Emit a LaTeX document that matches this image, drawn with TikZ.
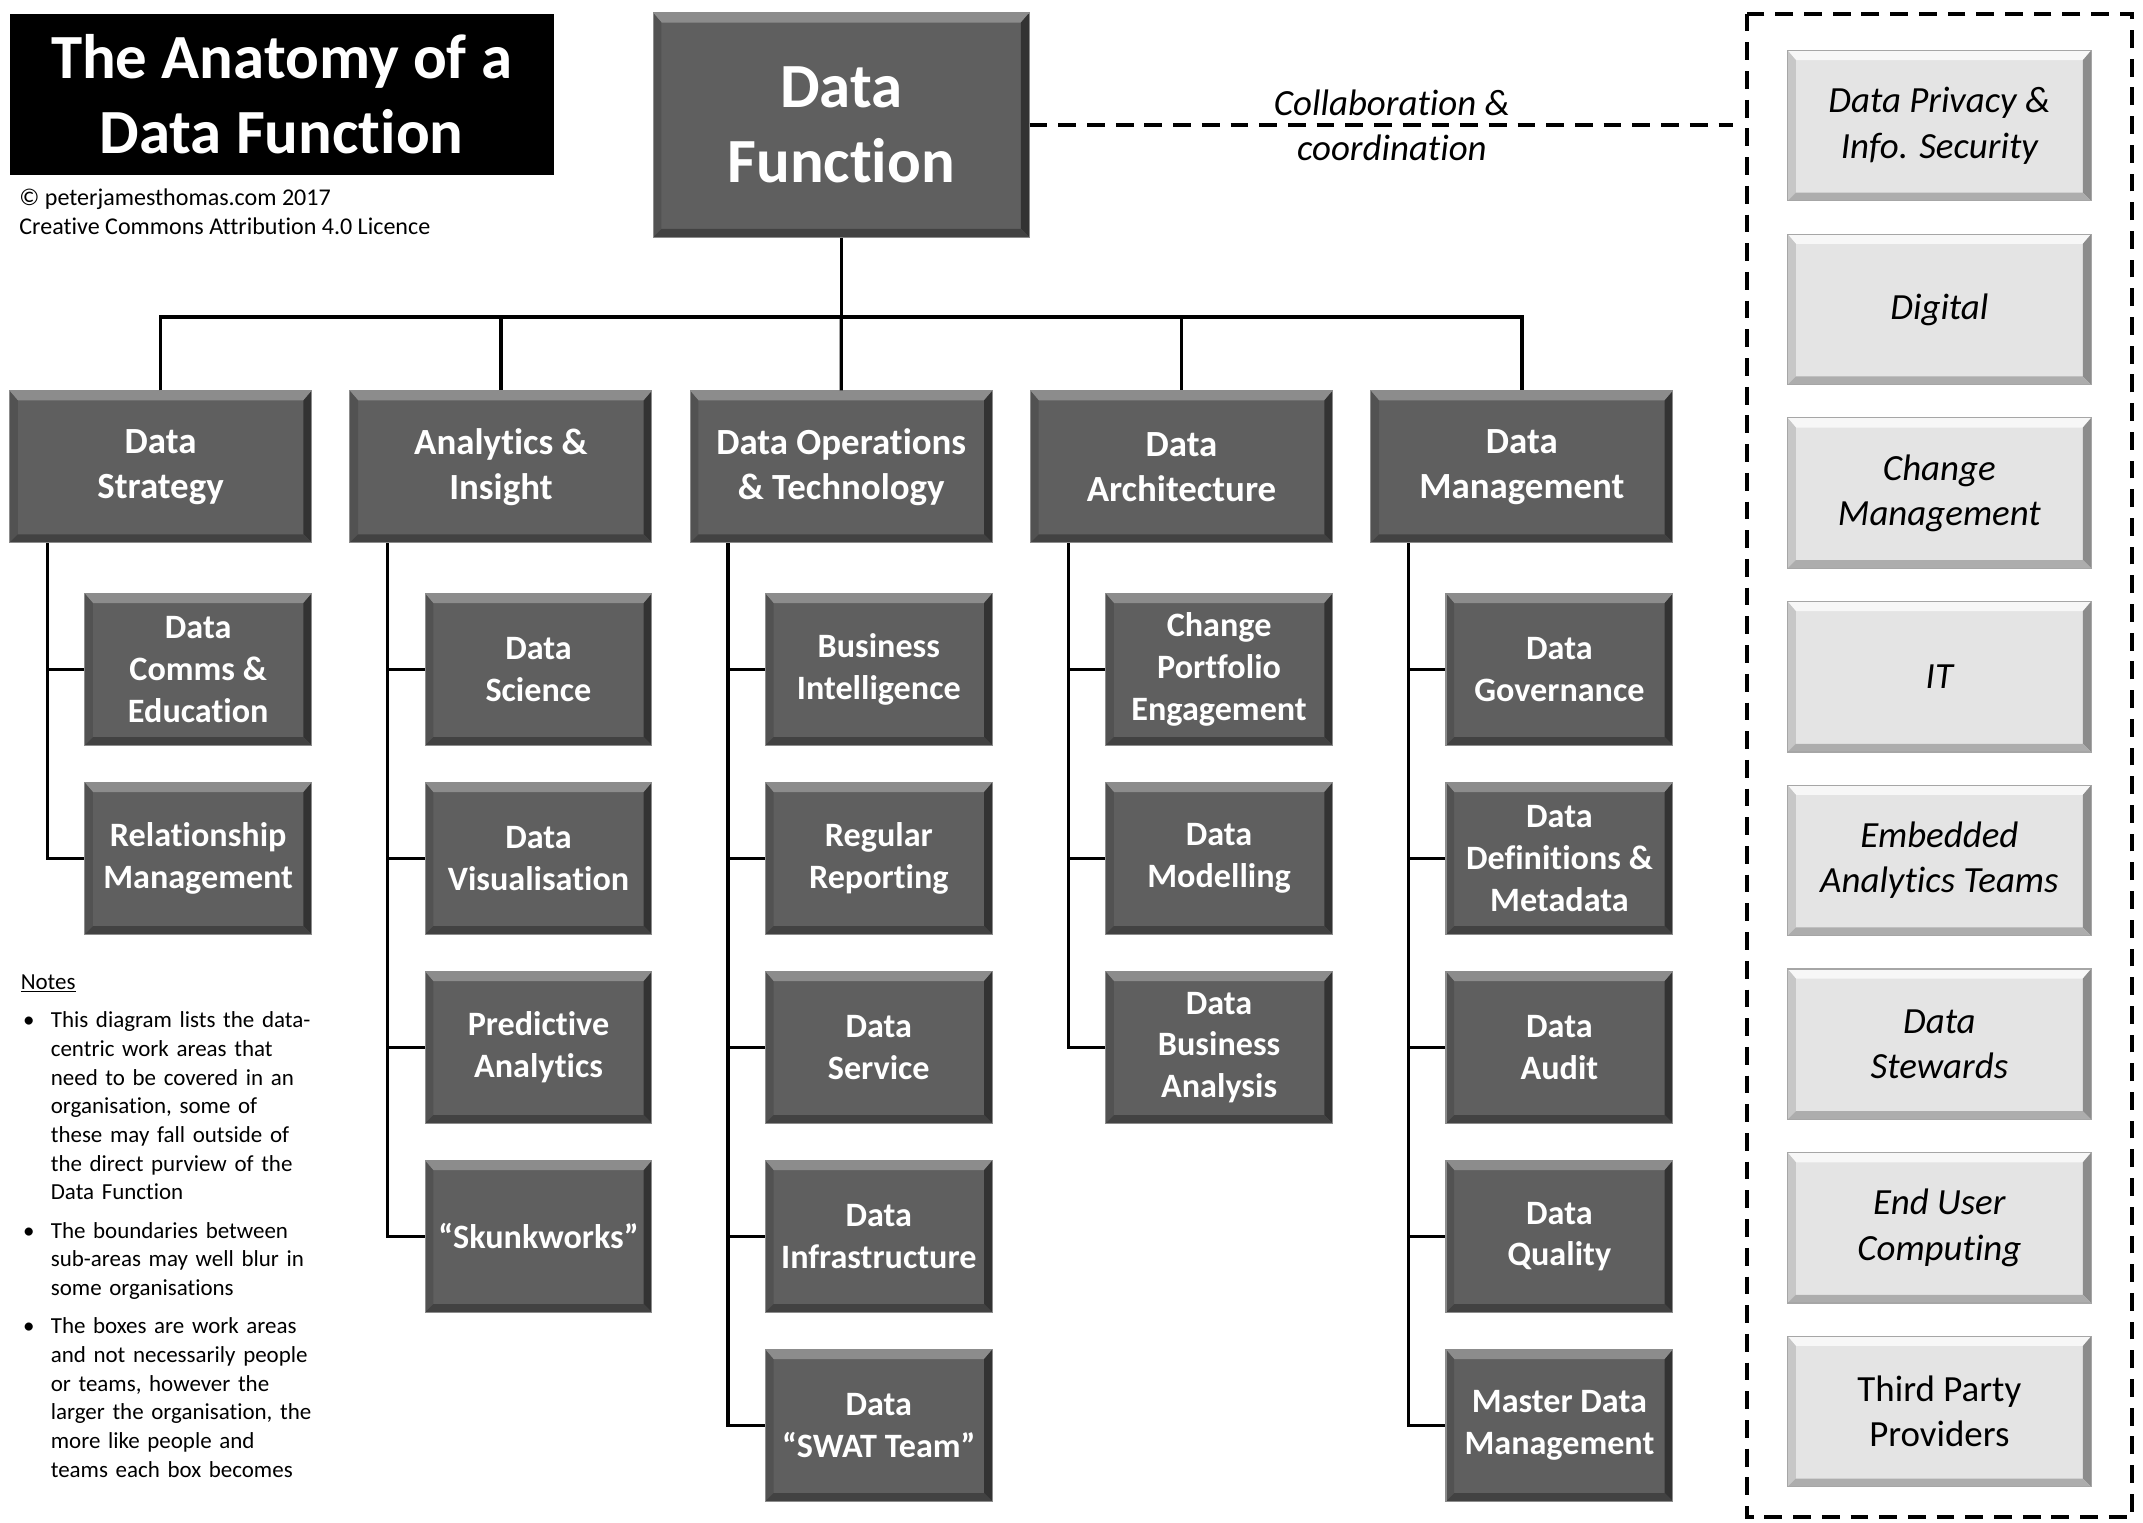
\documentclass[tikz,border=0pt]{standalone}
\usepackage{fontspec}
\setmainfont{Carlito}[Ligatures=NoCommon]
\usetikzlibrary{positioning}

\definecolor{darkfill}{HTML}{5F5F5F}
\definecolor{lightfill}{HTML}{E4E4E4}

% bevelled edges: top, left, right, bottom colours
\newcommand{\bevel}[4]{%
  \path (path picture bounding box.north west) coordinate (bnw)
        (path picture bounding box.north east) coordinate (bne)
        (path picture bounding box.south west) coordinate (bsw)
        (path picture bounding box.south east) coordinate (bse);
  \fill[#1] (bnw) -- (bne) -- ([shift={(-6pt,-7pt)}]bne) -- ([shift={(6pt,-7pt)}]bnw) -- cycle;
  \fill[#2] (bnw) -- ([shift={(6pt,-7pt)}]bnw) -- ([shift={(6pt,6pt)}]bsw) -- (bsw) -- cycle;
  \fill[#3] (bne) -- ([shift={(-6pt,-7pt)}]bne) -- ([shift={(-6pt,6pt)}]bse) -- (bse) -- cycle;
  \fill[#4] (bsw) -- ([shift={(6pt,6pt)}]bsw) -- ([shift={(-6pt,6pt)}]bse) -- (bse) -- cycle;}

\newcommand{\notebullet}{\leavevmode\llap{\textbullet\hspace{12pt}}}

\begin{document}
\begin{tikzpicture}[x=1pt, y=-1pt, node distance=26.5pt,
  dark/.style={draw=black!45, line width=0.8pt, fill=darkfill, text=white, align=center, inner sep=0pt,
    path picture={\bevel{black!45}{black!68}{black!80}{black!74}}},
  lvl/.style={dark, minimum width=221pt, minimum height=111pt, font={\fontsize{27}{33}\selectfont\bfseries}},
  sub/.style={dark, minimum width=166pt, minimum height=111pt, font={\fontsize{25}{30.5}\selectfont\bfseries}},
  ext/.style={draw=black!35, line width=0.8pt, fill=lightfill, align=center, inner sep=0pt,
    minimum width=222pt, minimum height=110pt, font={\fontsize{27}{33}\selectfont\itshape},
    path picture={\bevel{black!3}{black!22}{black!45}{black!32}}},
  link/.style={draw=black, line width=2.5pt},
  collab/.style={draw=black, line width=3pt, dash pattern=on 13pt off 8pt},
  note/.style={inner sep=0pt, align=left, font={\fontsize{16.8}{21}\selectfont}}]

\useasboundingbox (0,0) rectangle (1568,1114);

% title and credits
\node[fill=black, text=white, align=center, minimum width=398pt, minimum height=118pt,
  font={\fontsize{46}{55}\selectfont\bfseries}] (title) at (206,69) {The Anatomy of a\\Data Function};
\node[note, anchor=north west, font={\fontsize{17.6}{21}\selectfont}] (credit) at (14,138) {© peterjamesthomas.com 2017\\Creative Commons Attribution 4.0 Licence};

% top of the tree
\node[dark, minimum width=275pt, minimum height=164pt, font={\fontsize{46}{55}\selectfont\bfseries}] (df) at (615.5,91.5) {Data\\Function};

% first level
\node[lvl] (strat) at (117.5,341.5) {Data\\Strategy};
\node[lvl, right=27.2pt of strat] (anal) {Analytics \&\\Insight};
\node[lvl, right=27.2pt of anal] (ops) {Data Operations\\\& Technology};
\node[lvl, right=27.2pt of ops] (arch) {Data\\Architecture};
\node[lvl, right=27.2pt of arch] (mgmt) {Data\\Management};

% second level
\node[sub, below=36.5pt of strat.south east, anchor=north east] (comms) {Data\\Comms \&\\Education};
\node[sub, below=of comms] (rel) {Relationship\\Management};

\node[sub, below=36.5pt of anal.south east, anchor=north east] (sci) {Data\\Science};
\node[sub, below=of sci] (vis) {Data\\Visualisation};
\node[sub, below=of vis] (pred) {Predictive\\Analytics};
\node[sub, below=of pred] (skunk) {“Skunkworks”};

\node[sub, below=36.5pt of ops.south east, anchor=north east] (bi) {Business\\Intelligence};
\node[sub, below=of bi] (rep) {Regular\\Reporting};
\node[sub, below=of rep] (serv) {Data\\Service};
\node[sub, below=of serv] (infra) {Data\\Infrastructure};
\node[sub, below=of infra] (swat) {Data\\“SWAT Team”};

\node[sub, below=36.5pt of arch.south east, anchor=north east] (cpe) {Change\\Portfolio\\Engagement};
\node[sub, below=of cpe] (model) {Data\\Modelling};
\node[sub, below=of model] (dba) {Data\\Business\\Analysis};

\node[sub, below=36.5pt of mgmt.south east, anchor=north east] (gov) {Data\\Governance};
\node[sub, below=of gov] (defs) {Data\\Definitions \&\\Metadata};
\node[sub, below=of defs] (audit) {Data\\Audit};
\node[sub, below=of audit] (qual) {Data\\Quality};
\node[sub, below=of qual] (mdm) {Master Data\\Management};

% connectors
\draw[link] (df.south) -- ++(0,58) coordinate (bus);
\draw[link] (strat) |- (bus) -| (mgmt);
\draw[link] (bus) -| (anal);
\draw[link] (bus) -| (arch);
\draw[link] (bus) -- (ops);

\draw[link] ([xshift=28pt]strat.south west) |- (comms);
\draw[link] ([xshift=28pt]strat.south west) |- (rel);
\draw[link] ([xshift=28pt]anal.south west) |- (sci);
\draw[link] ([xshift=28pt]anal.south west) |- (vis);
\draw[link] ([xshift=28pt]anal.south west) |- (pred);
\draw[link] ([xshift=28pt]anal.south west) |- (skunk);
\draw[link] ([xshift=28pt]ops.south west) |- (bi);
\draw[link] ([xshift=28pt]ops.south west) |- (rep);
\draw[link] ([xshift=28pt]ops.south west) |- (serv);
\draw[link] ([xshift=28pt]ops.south west) |- (infra);
\draw[link] ([xshift=28pt]ops.south west) |- (swat);
\draw[link] ([xshift=28pt]arch.south west) |- (cpe);
\draw[link] ([xshift=28pt]arch.south west) |- (model);
\draw[link] ([xshift=28pt]arch.south west) |- (dba);
\draw[link] ([xshift=28pt]mgmt.south west) |- (gov);
\draw[link] ([xshift=28pt]mgmt.south west) |- (defs);
\draw[link] ([xshift=28pt]mgmt.south west) |- (audit);
\draw[link] ([xshift=28pt]mgmt.south west) |- (qual);
\draw[link] ([xshift=28pt]mgmt.south west) |- (mdm);

% collaboration with the rest of the organisation
\coordinate (cend) at (1268,91.5);
\draw[collab] (df.east) -- (cend) node[pos=0.515, align=center, text=black,
  font={\fontsize{27}{33}\selectfont\itshape}] (collabtext) {Collaboration \&\\coordination};
\draw[collab] (1278,10) rectangle (1560,1110);

\node[ext] (priv) at (1419,92) {Data Privacy \&\\Info. Security};
\node[ext, below=23.6pt of priv] (dig) {Digital};
\node[ext, below=23.6pt of dig] (chg) {Change\\Management};
\node[ext, below=23.6pt of chg] (it) {IT};
\node[ext, below=23.6pt of it] (emb) {Embedded\\Analytics Teams};
\node[ext, below=23.6pt of emb] (stew) {Data\\Stewards};
\node[ext, below=23.6pt of stew] (euc) {End User\\Computing};
\node[ext, below=23.6pt of euc, font={\fontsize{27}{33}\selectfont}] (third) {Third Party\\Providers};

% notes
\node[note, anchor=north west, text width=232pt] (notes) at (15,713) {\setlength{\parskip}{7pt}%
  \underline{Notes}\par
  \leftskip=22pt
  \notebullet This diagram lists the data-\\centric work areas that\\need to be covered in an\\organisation, some of\\these may fall outside of\\the direct purview of the\\Data Function\par
  \notebullet The boundaries between\\sub-areas may well blur in\\some organisations\par
  \notebullet The boxes are work areas\\and not necessarily people\\or teams, however the\\larger the organisation, the\\more like people and\\teams each box becomes\par};
\end{tikzpicture}
\end{document}
